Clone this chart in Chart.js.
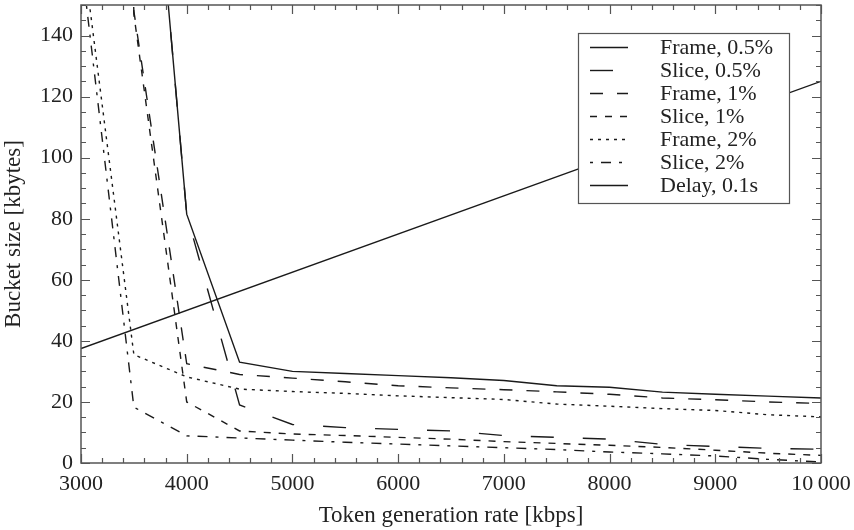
<!DOCTYPE html>
<html><head><meta charset="utf-8">
<script src="https://cdn.jsdelivr.net/npm/chart.js@4/dist/chart.umd.min.js"></script>
<style>html,body{margin:0;padding:0;background:#fff;}#wrap{width:854px;height:530px;position:relative;}</style>
</head><body><div id="wrap"><canvas id="c" width="854" height="530"></canvas></div>
<script>
// ---- data ----
const rates = [3000, 3500, 4000, 4500, 5000, 5500, 6000, 6500, 7000, 7500, 8000, 8500, 9000, 9500, 10000];
const frame05 = [600, 278, 81.5, 33, 30, 29.3, 28.6, 27.9, 27.0, 25.3, 24.8, 23.2, 22.5, 21.9, 21.3];
const slice05 = [600, 278, 81.5, 19, 12.6, 11.6, 11.0, 10.5, 9.0, 8.4, 7.8, 6.1, 5.4, 4.8, 4.5];
const frame1  = [600, 148, 32.5, 29, 27.8, 26.6, 25.3, 24.6, 24.0, 23.3, 22.5, 21.3, 20.7, 20.0, 19.5];
const slice1  = [600, 147, 20, 10.5, 9.5, 9.0, 8.4, 7.8, 7.0, 6.4, 5.8, 5.1, 4.2, 3.2, 2.5];
const frame2  = [172, 35.5, 28.2, 24.2, 23.4, 22.8, 22.0, 21.4, 20.8, 19.3, 18.6, 17.8, 17.2, 15.8, 15.1];
const slice2  = [165, 18.3, 8.9, 8.2, 7.5, 6.8, 6.2, 5.6, 5.0, 4.4, 3.6, 3.0, 2.3, 1.2, 0.3];
const delayRates = [3000, 10000];
const delay01 = [37.5, 125];
const seriesLabels = ['Frame, 0.5%', 'Slice, 0.5%', 'Frame, 1%', 'Slice, 1%', 'Frame, 2%', 'Slice, 2%', 'Delay, 0.1s'];
const xTicks = [3000, 4000, 5000, 6000, 7000, 8000, 9000, 10000];
const yTicks = [0, 20, 40, 60, 80, 100, 120, 140];
const xTitle = 'Token generation rate [kbps]';
const yTitle = 'Bucket size [kbytes]';

// ---- styles ----
const LINE = '#1a1a1a';
const AXIS = '#555555';
const TEXT = '#222222';
const FONT = 'Liberation Serif, Times New Roman, serif';
const dashes = [[], [23, 29], [13, 14], [7, 8], [3, 5], [10, 8, 3, 8], []];
const legendOffsets = [0, 0, 0, 0, 0, 18, 0];

function pts(xs, ys) { return xs.map((x, i) => ({ x: x, y: ys[i] })); }
const seriesData = [pts(rates, frame05), pts(rates, slice05), pts(rates, frame1), pts(rates, slice1),
                    pts(rates, frame2), pts(rates, slice2), pts(delayRates, delay01)];

const datasets = seriesData.map((d, i) => ({
  label: seriesLabels[i], data: d, borderColor: LINE, backgroundColor: LINE,
  borderWidth: 1.4, borderDash: dashes[i], pointRadius: 0, tension: 0, fill: false
}));

const framePlugin = {
  id: 'frameTicks',
  afterDatasetsDraw(chart) {
    const ctx = chart.ctx, a = chart.chartArea, xs = chart.scales.x, ys = chart.scales.y;
    ctx.save();
    ctx.strokeStyle = AXIS; ctx.lineWidth = 1.2; ctx.setLineDash([]);
    ctx.beginPath();
    for (let v = 3000; v <= 10000; v += 200) {
      const px = Math.round(xs.getPixelForValue(v)) + 0.5;
      const len = (v % 1000 === 0) ? 9 : 5;
      ctx.moveTo(px, a.bottom); ctx.lineTo(px, a.bottom - len);
      ctx.moveTo(px, a.top); ctx.lineTo(px, a.top + len);
    }
    for (let v = 0; v <= 150; v += 5) {
      const py = Math.round(ys.getPixelForValue(v)) + 0.5;
      const len = (v % 20 === 0) ? 9 : 5;
      ctx.moveTo(a.left, py); ctx.lineTo(a.left + len, py);
      ctx.moveTo(a.right, py); ctx.lineTo(a.right - len, py);
    }
    ctx.stroke();
    ctx.lineWidth = 1.5;
    ctx.strokeRect(a.left, a.top, a.right - a.left, a.bottom - a.top);
    ctx.restore();
  },
  afterDraw(chart) {
    const ctx = chart.ctx;
    const bx = 578, by = 33, bw = 211, bh = 170;
    ctx.save();
    ctx.fillStyle = '#fff';
    ctx.fillRect(bx, by, bw, bh);
    ctx.strokeStyle = AXIS; ctx.lineWidth = 1.2; ctx.setLineDash([]);
    ctx.strokeRect(bx + 0.5, by + 0.5, bw, bh);
    chart.data.datasets.forEach((ds, i) => {
      const y = 47 + i * 23;
      ctx.strokeStyle = LINE; ctx.lineWidth = 1.4;
      ctx.setLineDash(ds.borderDash || []);
      ctx.lineDashOffset = legendOffsets[i];
      ctx.beginPath(); ctx.moveTo(590, y + 0.5); ctx.lineTo(628, y + 0.5); ctx.stroke();
      ctx.setLineDash([]); ctx.lineDashOffset = 0;
      ctx.fillStyle = TEXT; ctx.font = '22px ' + FONT;
      ctx.textBaseline = 'middle'; ctx.textAlign = 'left';
      ctx.fillText(ds.label, 660, y + 1);
    });
    ctx.restore();
  }
};

new Chart(document.getElementById('c'), {
  type: 'line',
  data: { datasets: datasets },
  plugins: [framePlugin],
  options: {
    responsive: false, animation: false, devicePixelRatio: 1,
    layout: { padding: { top: 5, right: 33, left: 0, bottom: 0 } },
    plugins: { legend: { display: false }, tooltip: { enabled: false } },
    scales: {
      x: {
        type: 'linear', min: 3000, max: 10000,
        afterBuildTicks: s => { s.ticks = xTicks.map(v => ({ value: v })); },
        afterFit: s => { s.height = 67; s.paddingLeft = 0; s.paddingRight = 0; },
        grid: { display: false, drawTicks: false }, border: { display: false },
        ticks: { autoSkip: false, maxRotation: 0, padding: 8, color: TEXT, font: { family: FONT, size: 22 },
                 callback: v => v === 10000 ? '10\u2009000' : String(v) },
        title: { display: true, text: xTitle, color: TEXT, font: { family: FONT, size: 23 }, padding: { top: -4, bottom: 0 } }
      },
      y: {
        type: 'linear', min: 0, max: 150,
        afterBuildTicks: s => { s.ticks = yTicks.map(v => ({ value: v })); },
        afterFit: s => { s.width = 81; s.paddingTop = 0; s.paddingBottom = 0; },
        grid: { display: false, drawTicks: false }, border: { display: false },
        ticks: { autoSkip: false, padding: 8, color: TEXT, font: { family: FONT, size: 22 } },
        title: { display: true, text: yTitle, color: TEXT, font: { family: FONT, size: 23 }, padding: { top: 0, bottom: 0 } }
      }
    }
  }
});
</script></body></html>
